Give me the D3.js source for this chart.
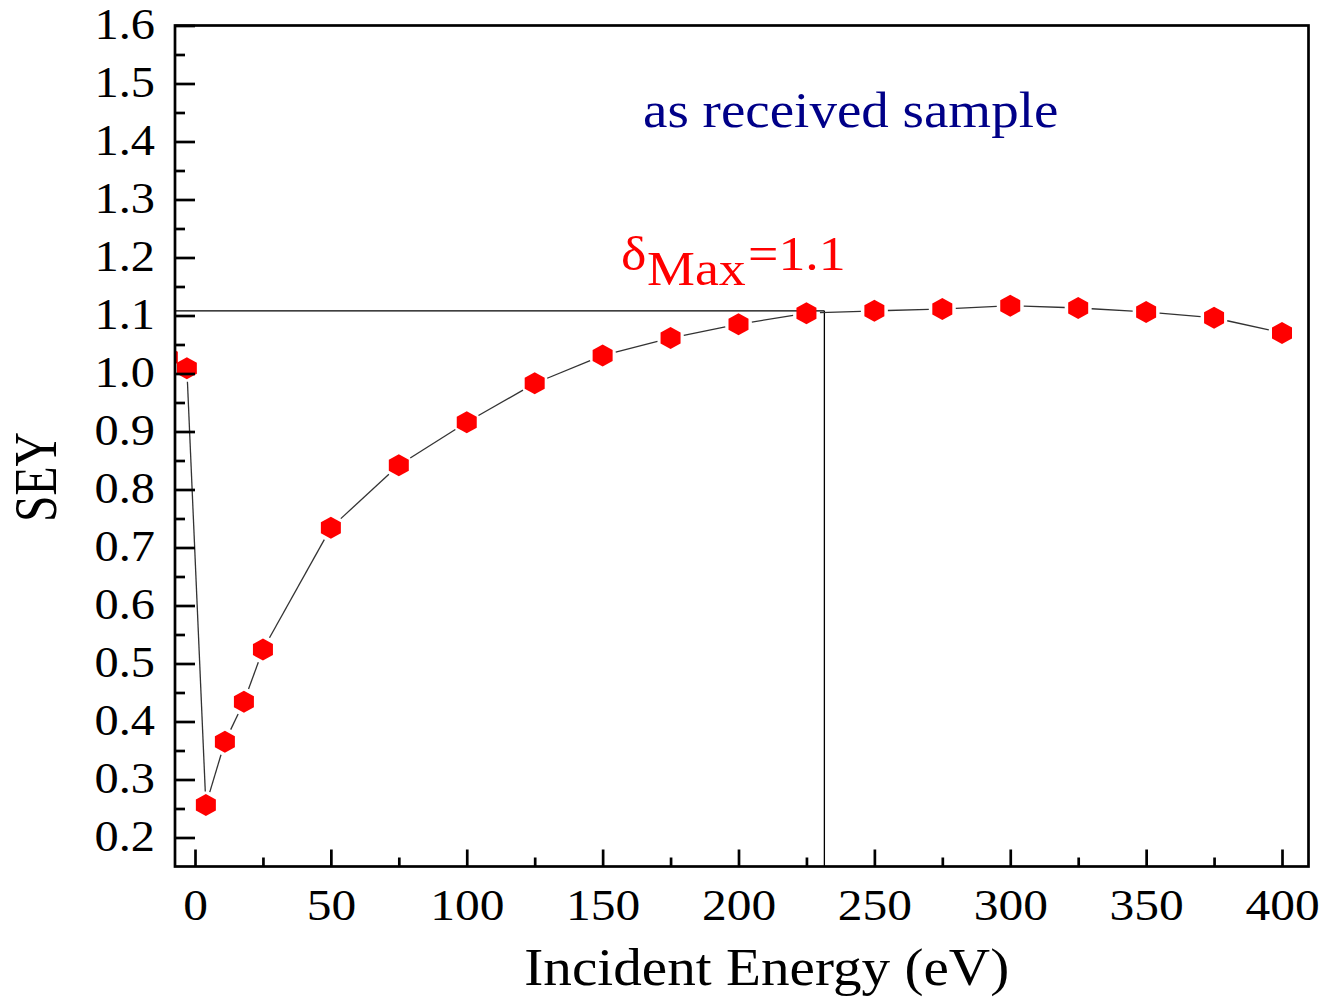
<!DOCTYPE html>
<html>
<head>
<meta charset="utf-8">
<script src="https://cdn.jsdelivr.net/npm/d3@7"></script>
<style>
  body { margin: 0; background: #fff; }
  text { font-family: "Liberation Serif", "Times New Roman", serif; }
</style>
</head>
<body>
<div class="chart"></div>
<script>
// data
const energy = [-10, -3, 4, 11, 18, 25, 50, 75, 100, 125, 150, 175, 200, 225, 250, 275, 300, 325, 350, 375, 400]
const sey = [1.028, 1.009, 0.256, 0.365, 0.434, 0.524, 0.734, 0.842, 0.916, 0.983, 1.031, 1.061, 1.085, 1.104, 1.108, 1.111, 1.117, 1.113, 1.106, 1.096, 1.070]
const xTicks = [0, 50, 100, 150, 200, 250, 300, 350, 400]
const yTicks = [0.2, 0.3, 0.4, 0.5, 0.6, 0.7, 0.8, 0.9, 1.0, 1.1, 1.2, 1.3, 1.4, 1.5, 1.6]
const maxSey = 1.108     // horizontal guide
const maxEnergy = 231.6  // vertical guide

const width = 1322
const height = 997
const margin = ({ top: 25.5, right: 13.5, bottom: 130.5, left: 175 })

const svg = d3.select(".chart").append("svg")
    .attr("width", width)
    .attr("height", height)

// scales
const x = d3.scaleLinear()
    .domain([-7.36, 409.75])
    .range([margin.left, width - margin.right])

const y = d3.scaleLinear()
    .domain([0.15, 1.6])
    .range([height - margin.bottom, margin.top])

svg.append("clipPath").attr("id", "plot")
    .append("rect")
    .attr("x", margin.left).attr("y", margin.top)
    .attr("width", width - margin.left - margin.right)
    .attr("height", height - margin.top - margin.bottom)

const pts = energy.map((e, i) => [x(e), y(sey[i])])

// guide lines at the maximum
svg.append("line")
    .attr("x1", margin.left).attr("x2", x(maxEnergy))
    .attr("y1", y(maxSey)).attr("y2", y(maxSey))
    .attr("stroke", "#000").attr("stroke-width", 1.3)
svg.append("line")
    .attr("x1", x(maxEnergy)).attr("x2", x(maxEnergy))
    .attr("y1", y(maxSey)).attr("y2", height - margin.bottom)
    .attr("stroke", "#000").attr("stroke-width", 1.3)

// connecting segments, cut short near the markers like Origin does
const gap = 13.5
const segs = d3.pairs(pts).map(([a, b]) => {
    const dx = b[0] - a[0], dy = b[1] - a[1]
    const len = Math.hypot(dx, dy)
    if (len < 2 * gap + 1) return null
    const ux = dx / len, uy = dy / len
    return [a[0] + ux * gap, a[1] + uy * gap, b[0] - ux * gap, b[1] - uy * gap]
}).filter(s => s)

const g = svg.append("g").attr("clip-path", "url(#plot)")

g.selectAll("line.seg")
    .data(segs)
    .join("line")
    .attr("class", "seg")
    .attr("x1", d => d[0]).attr("y1", d => d[1])
    .attr("x2", d => d[2]).attr("y2", d => d[3])
    .attr("stroke", "#333")
    .attr("stroke-width", 1.3)

// hexagon markers
const rx = 10, ry = 11
const hex = d3.line()([[0, -ry], [rx, -ry / 2], [rx, ry / 2], [0, ry], [-rx, ry / 2], [-rx, -ry / 2]]) + "Z"

g.selectAll("path.pt")
    .data(pts)
    .join("path")
    .attr("class", "pt")
    .attr("d", hex)
    .attr("transform", d => "translate(" + d[0] + "," + d[1] + ")")
    .attr("fill", "#ff0000")

// axes (ticks point inward)
svg.append("g")
    .attr("transform", "translate(0," + (height - margin.bottom) + ")")
    .call(d3.axisBottom(x).tickValues(d3.range(25, 401, 50)).tickSize(-9).tickFormat(""))
const xAxis = svg.append("g")
    .attr("transform", "translate(0," + (height - margin.bottom) + ")")
    .call(d3.axisBottom(x).tickValues(xTicks).tickSize(-17).tickFormat(d3.format("d")))

svg.append("g")
    .attr("transform", "translate(" + margin.left + ",0)")
    .call(d3.axisLeft(y).tickValues(d3.range(0.25, 1.6, 0.1)).tickSize(-10).tickFormat(""))
const yAxis = svg.append("g")
    .attr("transform", "translate(" + margin.left + ",0)")
    .call(d3.axisLeft(y).tickValues(yTicks).tickSize(-20).tickFormat(d3.format(".1f")))

svg.selectAll(".domain").remove()
svg.selectAll(".tick line").attr("stroke", "#000").attr("stroke-width", 2.7)

xAxis.selectAll("text")
    .attr("y", 53.5).attr("dy", 0)
    .attr("font-size", 45).attr("fill", "#000")
yAxis.selectAll("text")
    .attr("x", -20).attr("dy", 12.5)
    .attr("font-size", 44).attr("fill", "#000")

// frame
svg.append("rect")
    .attr("x", margin.left).attr("y", margin.top)
    .attr("width", width - margin.left - margin.right)
    .attr("height", height - margin.top - margin.bottom)
    .attr("fill", "none")
    .attr("stroke", "#000")
    .attr("stroke-width", 2.7)

// titles
svg.append("text")
    .attr("class", "wide")
    .attr("x", (margin.left + width - margin.right) / 2 + 25)
    .attr("y", 985)
    .attr("text-anchor", "middle")
    .attr("font-size", 52)
    .text("Incident Energy (eV)")

svg.append("text")
    .attr("transform", "translate(56,477) rotate(-90)")
    .attr("text-anchor", "middle")
    .attr("font-size", 62)
    .attr("textLength", 90)
    .attr("lengthAdjust", "spacingAndGlyphs")
    .text("SEY")

// annotations
svg.append("text")
    .attr("class", "wide")
    .attr("x", 643).attr("y", 127)
    .attr("font-size", 50)
    .attr("fill", "#000088")
    .text("as received sample")

const red = [["\u03b4", 621, 270], ["Max", 647, 285], ["=1.1", 748, 270]]
svg.selectAll("text.note")
    .data(red)
    .join("text")
    .attr("class", "note wide")
    .attr("x", d => d[1]).attr("y", d => d[2])
    .attr("font-size", 49)
    .attr("fill", "#ff0000")
    .text(d => d[0])

// Origin export looks stretched a bit sideways
svg.selectAll("text.wide, .tick text").each(function () {
    const w = this.getComputedTextLength()
    if (w > 0) d3.select(this).attr("textLength", w * 1.1).attr("lengthAdjust", "spacingAndGlyphs")
})
</script>
</body>
</html>
